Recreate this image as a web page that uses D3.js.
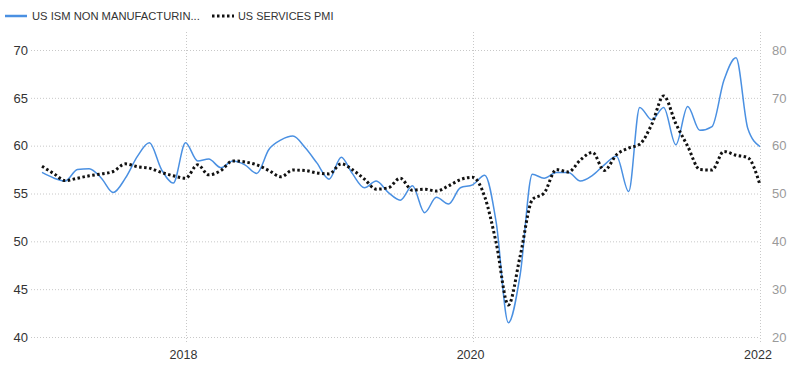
<!DOCTYPE html>
<html>
<head>
<meta charset="utf-8">
<script src="https://cdn.jsdelivr.net/npm/d3@7"></script>
<style>
  html, body { margin: 0; padding: 0; background: #fff; }
  svg { display: block; font-family: "Liberation Sans", Arial, sans-serif; }
</style>
</head>
<body>
<svg id="chart" width="800" height="371"></svg>
<script>
// Monthly observations, Jan 2017 – Jan 2022
const startMonth = "2017-01";
const ismNonManufacturing = [
  57.2, 56.6, 56.3, 57.5, 57.6, 56.6, 55.1, 56.6, 58.9, 60.3, 57.5, 56.1,
  60.3, 58.4, 58.6, 57.7, 58.4, 58.0, 57.1, 59.6, 60.6, 61.0, 59.8, 58.2,
  56.5, 58.8, 57.1, 55.6, 56.3, 55.1, 54.3, 55.8, 53.0, 54.6, 53.9, 55.6,
  55.9, 56.9, 52.0, 41.5, 46.5, 57.0, 56.6, 57.2, 57.2, 56.3, 56.9, 58.0,
  58.9, 55.2, 64.0, 62.7, 64.0, 60.1, 64.1, 61.6, 62.0, 66.8, 69.2, 61.8,
  59.9
];
const servicesPmi = [
  55.7, 54.1, 52.7, 53.2, 53.7, 54.1, 54.6, 56.2, 55.6, 55.3, 54.4, 53.7,
  53.2, 56.0, 53.9, 54.8, 56.8, 56.6, 56.0, 54.8, 53.5, 54.9, 54.8, 54.3,
  54.1, 56.2, 55.0, 53.0, 50.9, 51.2, 53.2, 50.7, 50.9, 50.5, 51.6, 52.9,
  53.4, 49.3, 39.7, 26.7, 36.9, 48.7, 50.1, 55.0, 54.5, 57.0, 58.6, 54.8,
  58.1, 59.5, 60.3, 64.5, 70.4, 64.6, 59.9, 55.0, 54.9, 58.8, 58.0, 57.5,
  51.8
];
const leftTicks = [40, 45, 50, 55, 60, 65, 70];
const rightTicks = [20, 30, 40, 50, 60, 70, 80];
const yearTicks = ["2018", "2020", "2022"];
const legendLabels = ["US ISM NON MANUFACTURIN...", "US SERVICES PMI"];

const svg = d3.select("#chart");
const parseMonth = d3.timeParse("%Y-%m");
const t0 = parseMonth(startMonth);
const dates = ismNonManufacturing.map((_, i) => d3.timeMonth.offset(t0, i));

const x = d3.scaleTime()
  .domain([parseMonth("2017-01"), parseMonth("2022-01")])
  .range([42, 760]);
const yL = d3.scaleLinear().domain([40, 70]).range([337, 50]);
const yR = d3.scaleLinear().domain([20, 80]).range([337, 50]);

// horizontal grid
svg.append("g").selectAll("line").data(leftTicks).join("line")
  .attr("x1", 31).attr("x2", 760)
  .attr("y1", d => yL(d) + 0.5).attr("y2", d => yL(d) + 0.5)
  .attr("stroke", "#c8c8c8").attr("stroke-width", 1)
  .attr("stroke-dasharray", "1,2");

// vertical grid
const yearDates = yearTicks.map(d => d3.timeParse("%Y")(d));
svg.append("g").selectAll("line").data(yearDates).join("line")
  .attr("x1", d => Math.round(x(d)) + 0.5).attr("x2", d => Math.round(x(d)) + 0.5)
  .attr("y1", 32).attr("y2", 344)
  .attr("stroke", "#c8c8c8").attr("stroke-width", 1)
  .attr("stroke-dasharray", "1,2");

// left axis labels
svg.append("g").selectAll("text").data(leftTicks).join("text")
  .attr("x", 28).attr("y", d => yL(d)).attr("dy", "0.36em")
  .attr("text-anchor", "end").attr("font-size", 13)
  .attr("fill", "#333").text(d => d);

// right axis labels
svg.append("g").selectAll("text").data(rightTicks).join("text")
  .attr("x", 772).attr("y", d => yR(d)).attr("dy", "0.36em")
  .attr("text-anchor", "start").attr("font-size", 13)
  .attr("fill", "#9a9a9a").text(d => d);

// x labels
svg.append("g").selectAll("text").data(yearDates).join("text")
  .attr("x", d => x(d) - 2).attr("y", 359)
  .attr("text-anchor", "middle").attr("font-size", 12.5)
  .attr("fill", "#333").text((d, i) => yearTicks[i]);

// lines
const lineL = d3.line().x((d, i) => x(dates[i])).y(d => yL(d)).curve(d3.curveMonotoneX);
const lineR = d3.line().x((d, i) => x(dates[i])).y(d => yR(d)).curve(d3.curveMonotoneX);

svg.append("path").datum(ismNonManufacturing)
  .attr("d", lineL).attr("fill", "none")
  .attr("stroke", "#4a90e2").attr("stroke-width", 1.5);

svg.append("path").datum(servicesPmi)
  .attr("d", lineR).attr("fill", "none")
  .attr("stroke", "#111").attr("stroke-width", 3)
  .attr("stroke-dasharray", "2.5,2.5");

// legend
const lg = svg.append("g");
lg.append("line").attr("x1", 5).attr("x2", 27).attr("y1", 16).attr("y2", 16)
  .attr("stroke", "#4a90e2").attr("stroke-width", 2.5);
lg.append("text").attr("x", 32).attr("y", 16).attr("dy", "0.36em")
  .attr("font-size", 11.2).attr("fill", "#333").text(legendLabels[0]);
lg.append("line").attr("x1", 212).attr("x2", 234).attr("y1", 16).attr("y2", 16)
  .attr("stroke", "#111").attr("stroke-width", 3).attr("stroke-dasharray", "2.5,2.5");
lg.append("text").attr("x", 238).attr("y", 16).attr("dy", "0.36em")
  .attr("font-size", 10.9).attr("fill", "#333").text(legendLabels[1]);
</script>
</body>
</html>
